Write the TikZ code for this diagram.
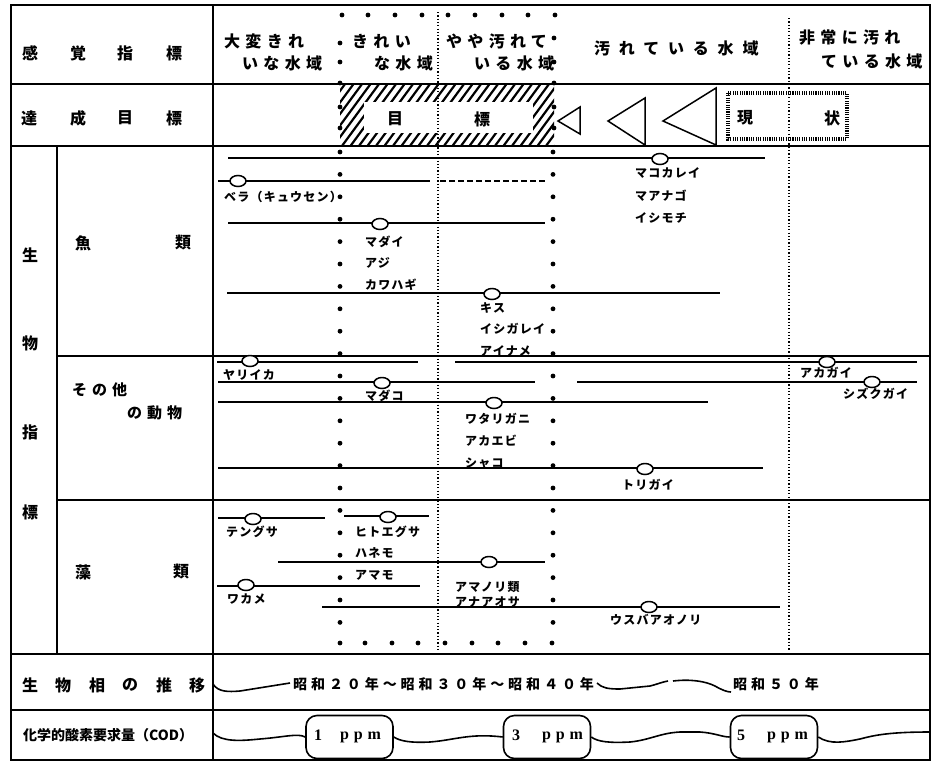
\documentclass[tikz,border=0pt]{standalone}
\usepackage{fontspec}
\usetikzlibrary{shapes.geometric}
\setmainfont{Noto Sans CJK JP}
\newfontfamily\fhead[LetterSpace=33]{Noto Sans CJK JP}
\newfontfamily\fheadw[LetterSpace=55]{Noto Sans CJK JP}
\newfontfamily\fsp[LetterSpace=10]{Noto Sans CJK JP}
\newfontfamily\fera[LetterSpace=28]{Noto Sans CJK JP}
\newfontfamily\fppm[LetterSpace=30]{Liberation Serif}
\tikzset{
 frm/.style={line width=1.6pt},
 spl/.style={line width=1.5pt},
 ov/.style={ellipse, draw, fill=white, line width=1.5pt, minimum width=16pt, minimum height=11pt, inner sep=0pt},
 sl/.style={anchor=west, inner sep=0pt, font=\fsp\bfseries\fontsize{12}{12}\selectfont},
 hd/.style={anchor=west, inner sep=0pt, font=\fhead\bfseries\fontsize{16}{16}\selectfont},
 big/.style={inner sep=0pt, font=\bfseries\fontsize{16}{16}\selectfont},
 fd/.style={line width=2pt, dash pattern=on 1.2pt off 2.1pt},
 wv/.style={line width=1.6pt},
 pb/.style={draw, line width=1.6pt, rounded corners=11pt, minimum width=87pt, minimum height=43pt, inner sep=0pt},
 pt/.style={anchor=west, inner sep=0pt, font=\fppm\bfseries\fontsize{16}{16}\selectfont},
 bd/.style={fill=black},
}
\begin{document}
\begin{tikzpicture}[x=1pt,y=-1pt]
\useasboundingbox (0,0) rectangle (932,764);
\fill[white] (0,0) rectangle (932,764);

% ---------- hatched target band ----------
\begin{scope}
\clip (340,85) rectangle (554,146);
\foreach \i in {0,...,32} \draw[line width=2.2pt] ({288+8.5*\i},150) -- ({338+8.5*\i},82);
\end{scope}
\fill[white] (364,102) rectangle (533,133);
\node[big] (mok) at (395,119) {目};
\node[big] (hyo) at (482,119) {標};

% ---------- frame ----------
\draw[frm] (11,5) rectangle (930,760);
\draw[frm] (213,5) -- (213,760);
\draw[frm] (11,84) -- (930,84);
\draw[frm] (11,146) -- (930,146);
\draw[frm] (57,146) -- (57,654);
\draw[frm] (57,356) -- (930,356);
\draw[frm] (57,500) -- (930,500);
\draw[frm] (11,654) -- (930,654);
\draw[frm] (11,710) -- (930,710);

% ---------- left labels ----------
\node[big] (k1) at (30,53) {感};
\node[big] (k2) at (78,53) {覚};
\node[big] (k3) at (125,53) {指};
\node[big] (k4) at (174,53) {標};
\node[big] (t1) at (29,118) {達};
\node[big] (t2) at (78,118) {成};
\node[big] (t3) at (125,118) {目};
\node[big] (t4) at (174,118) {標};
\node[big] (s1) at (30,255) {生};
\node[big] (s2) at (30,343) {物};
\node[big] (s3) at (30,432) {指};
\node[big] (s4) at (30,512) {標};
\node[big] (g1) at (83,243) {魚};
\node[big] (g2) at (183,243) {類};
\node[hd, font=\fhead\bfseries\fontsize{15}{15}\selectfont] (ot1) at (72,390) {その他};
\node[hd, font=\fhead\bfseries\fontsize{15}{15}\selectfont] (ot2) at (127,413) {の動物};
\node[big] (a1) at (83,572) {藻};
\node[big] (a2) at (181,572) {類};
\node[big] (b1l) at (30,685) {生};
\node[big] (b2l) at (63,685) {物};
\node[big] (b3l) at (97,685) {相};
\node[big] (b4l) at (130,685) {の};
\node[big] (b5l) at (164,685) {推};
\node[big] (b6l) at (197,685) {移};
\node[anchor=west, inner sep=0pt, font=\bfseries\fontsize{14}{14}\selectfont] (cod) at (23,735) {化学的酸素要求量（COD）};

% ---------- header texts ----------
\node[hd] (h1) at (224,41) {大変きれ};
\node[hd] (h2) at (242,63) {いな水域};
\node[hd] (h3) at (352,41) {きれい};
\node[hd] (h4) at (374,63) {な水域};
\node[hd] (h5) at (446,41) {やや汚れて};
\node[hd] (h6) at (474,63) {いる水域};
\node[hd, font=\fheadw\bfseries\fontsize{16}{16}\selectfont] (h7) at (594,48) {汚れている水域};
\node[hd] (h8) at (799,38) {非常に汚れ};
\node[hd] (h9) at (821,61) {ている水域};

% ---------- triangles and current state ----------
\draw[line width=1.5pt] (558,121) -- (580,107) -- (580,134) -- cycle;
\draw[line width=1.5pt] (608,121) -- (645,98) -- (645,145) -- cycle;
\draw[line width=1.5pt] (663,121) -- (716,88) -- (716,145) -- cycle;
\draw[line width=3.5pt, dash pattern=on 1.1pt off 1.2pt] (728,93) rectangle (847,139);
\node[big] (gen) at (745,118) {現};
\node[big] (jyo) at (832,118) {状};

% ---------- dotted lines ----------
\draw[fd] (438,12) -- (438,650);
\draw[fd] (789,18) -- (789,650);
\foreach \x in {342,368,395,422,448,475,502,528,555} \fill[bd] (\x,15) circle (2.4pt);
\foreach \x in {340,365,392,418,445,472,498,525,552} \fill[bd] (\x,643) circle (2.4pt);
\foreach \y in {43,62,83,107,128} \fill[bd] (340,\y) circle (2.4pt);
\foreach \y in {38,62,83,107,128} \fill[bd] (554,\y) circle (2.4pt);
\foreach \k in {0,...,21} {
  \fill[bd] (340,{152+22.4*\k}) circle (2.4pt);
  \fill[bd] (553,{152+22.4*\k}) circle (2.4pt);
}

% ---------- fish ----------
\draw[spl] (228,158) -- (765,158);
\node[ov] (o1) at (660,159) {};
\draw[spl] (218,181) -- (430,181);
\draw[spl, dash pattern=on 6pt off 3pt] (440,181) -- (547,181);
\node[ov] (o2) at (238,181) {};
\draw[spl] (228,223) -- (545,223);
\node[ov] (o3) at (380,224) {};
\draw[spl] (227,293) -- (720,293);
\node[ov] (o4) at (492,294) {};
\node[sl] (l1) at (635,173) {マコカレイ};
\node[sl] (l2) at (635,196) {マアナゴ};
\node[sl] (l3) at (635,218) {イシモチ};
\node[sl] (l4) at (224,197) {ベラ（キュウセン）};
\node[sl] (l5) at (365,242) {マダイ};
\node[sl] (l6) at (365,263) {アジ};
\node[sl] (l7) at (365,285) {カワハギ};
\node[sl] (l8) at (480,308) {キス};
\node[sl] (l9) at (480,329) {イシガレイ};
\node[sl] (l10) at (480,351) {アイナメ};

% ---------- other animals ----------
\draw[spl] (217,362) -- (418,362);
\draw[spl] (455,362) -- (917,362);
\node[ov] (o5) at (250,361) {};
\node[ov] (o6) at (827,362) {};
\draw[spl] (218,382) -- (535,382);
\draw[spl] (577,382) -- (917,382);
\node[ov] (o7) at (382,383) {};
\node[ov] (o8) at (872,382) {};
\draw[spl] (218,402) -- (708,402);
\node[ov] (o9) at (494,403) {};
\draw[spl] (218,468) -- (763,468);
\node[ov] (o10) at (645,469) {};
\node[sl] (m1) at (223,375) {ヤリイカ};
\node[sl] (m2) at (365,396) {マダコ};
\node[sl] (m3) at (800,373) {アカガイ};
\node[sl] (m4) at (843,394) {シズクガイ};
\node[sl] (m5) at (465,419) {ワタリガニ};
\node[sl] (m6) at (465,441) {アカエビ};
\node[sl] (m7) at (465,463) {シャコ};
\node[sl] (m8) at (622,485) {トリガイ};

% ---------- algae ----------
\draw[spl] (218,518) -- (325,518);
\node[ov] (o11) at (253,519) {};
\draw[spl] (344,516) -- (429,516);
\node[ov] (o12) at (388,517) {};
\draw[spl] (278,562) -- (545,562);
\node[ov] (o13) at (489,562) {};
\draw[spl] (217,586) -- (420,586);
\node[ov] (o14) at (246,585) {};
\draw[spl] (322,607) -- (780,607);
\node[ov] (o15) at (649,607) {};
\node[sl] (n1) at (226,532) {テングサ};
\node[sl] (n2) at (355,532) {ヒトエグサ};
\node[sl] (n3) at (355,553) {ハネモ};
\node[sl] (n4) at (355,575) {アマモ};
\node[sl] (n5) at (227,599) {ワカメ};
\node[sl] (n6) at (455,587) {アマノリ類};
\node[sl] (n7) at (455,602) {アナアオサ};
\node[sl] (n8) at (610,620) {ウスバアオノリ};

% ---------- succession row ----------
\draw[wv] (213,684) .. controls (218,692) and (228,692) .. (240,691) -- (290,683);
\node[anchor=west, inner sep=0pt, font=\fera\bfseries\fontsize{14}{14}\selectfont] (era1) at (293,684) {昭和２０年～昭和３０年～昭和４０年};
\draw[wv] (597,683) .. controls (602,688) and (608,689) .. (620,689) -- (650,686) .. controls (658,684) and (662,682) .. (668,681);
\draw[wv] (673,681) .. controls (690,679) and (705,681) .. (715,686) .. controls (722,690) and (727,692) .. (731,692);
\node[anchor=west, inner sep=0pt, font=\fera\bfseries\fontsize{14}{14}\selectfont] (era2) at (733,684) {昭和５０年};

% ---------- COD row ----------
\node[pb] (p1) at (349.5,737) {};
\node[pb] (p2) at (547,737) {};
\node[pb] (p3) at (774,737) {};
\node[pt] (q1) at (314,735) {1};
\node[pt] (q1b) at (340,737) {ppm};
\node[pt] (q2) at (512,735) {3};
\node[pt] (q2b) at (542,737) {ppm};
\node[pt] (q3) at (737,735) {5};
\node[pt] (q3b) at (767,737) {ppm};
\draw[wv] (213,733) .. controls (222,742) and (240,741) .. (260,739) .. controls (285,737) and (298,733) .. (p1.west);
\draw[wv] (p1.east) .. controls (400,741) and (410,743) .. (430,742) .. controls (455,740) and (470,733) .. (p2.west);
\draw[wv] (p2.east) .. controls (598,742) and (610,743) .. (630,742) .. controls (650,740) and (660,733) .. (680,732) -- (700,732) .. controls (715,733) and (722,737) .. (p3.west);
\draw[wv] (p3.east) .. controls (830,745) and (845,742) .. (860,739) .. controls (875,735) and (890,732) .. (930,732);
\end{tikzpicture}
\end{document}
